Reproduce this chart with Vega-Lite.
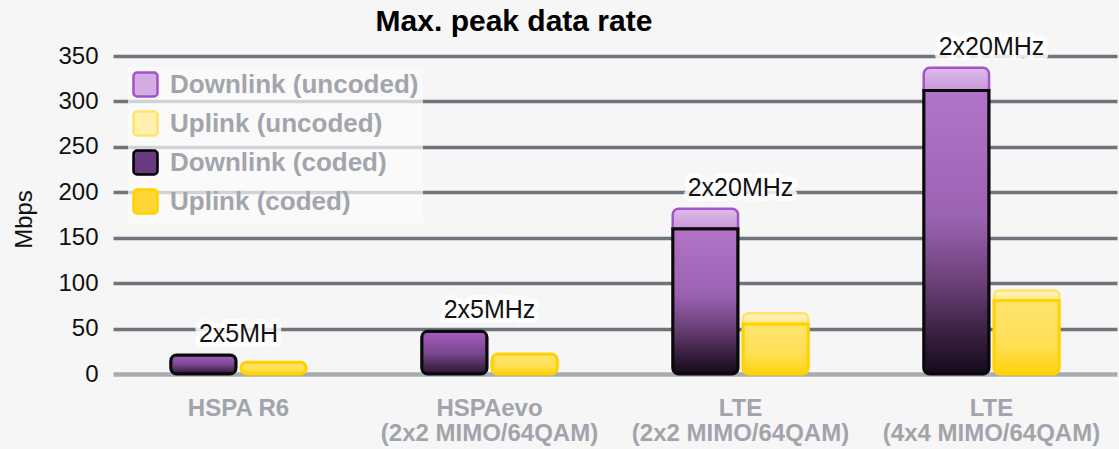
{
  "$schema": "https://vega.github.io/schema/vega-lite/v6.json",
  "width": 1004,
  "height": 318,
  "autosize": {"type": "none"},
  "padding": {"left": 113, "top": 56, "right": 2, "bottom": 75},
  "background": "#f6f6f6",
  "title": {
    "text": "Max. peak data rate",
    "font": "Liberation Sans",
    "fontSize": 30,
    "fontWeight": "bold",
    "color": "#000000",
    "anchor": "middle",
    "dx": -101,
    "baseline": "alphabetic",
    "offset": -26
  },
  "datasets": {
    "rates": [
      {"tech": "HSPA R6", "link": "Downlink", "coded": 21, "uncoded": 21, "band": "2x5MH"},
      {"tech": "HSPA R6", "link": "Uplink", "coded": 13, "uncoded": 13},
      {"tech": "HSPAevo (2x2 MIMO/64QAM)", "link": "Downlink", "coded": 47, "uncoded": 47, "band": "2x5MHz"},
      {"tech": "HSPAevo (2x2 MIMO/64QAM)", "link": "Uplink", "coded": 22, "uncoded": 22},
      {"tech": "LTE (2x2 MIMO/64QAM)", "link": "Downlink", "coded": 160, "uncoded": 182, "band": "2x20MHz"},
      {"tech": "LTE (2x2 MIMO/64QAM)", "link": "Uplink", "coded": 55, "uncoded": 67},
      {"tech": "LTE (4x4 MIMO/64QAM)", "link": "Downlink", "coded": 312, "uncoded": 337, "band": "2x20MHz"},
      {"tech": "LTE (4x4 MIMO/64QAM)", "link": "Uplink", "coded": 81, "uncoded": 92}
    ],
    "series": [
      {"series": "Downlink (uncoded)"},
      {"series": "Uplink (uncoded)"},
      {"series": "Downlink (coded)"},
      {"series": "Uplink (coded)"}
    ]
  },
  "layer": [
    {
      "data": {"name": "rates"},
      "transform": [{"filter": "datum.uncoded > datum.coded"}],
      "mark": {"type": "bar", "cornerRadiusTopLeft": 6, "cornerRadiusTopRight": 6, "strokeWidth": 2.5},
      "encoding": {
        "x": {"field": "tech", "type": "nominal",
          "sort": ["HSPA R6", "HSPAevo (2x2 MIMO/64QAM)", "LTE (2x2 MIMO/64QAM)", "LTE (4x4 MIMO/64QAM)"],
          "scale": {"domain": ["HSPA R6", "HSPAevo (2x2 MIMO/64QAM)", "LTE (2x2 MIMO/64QAM)", "LTE (4x4 MIMO/64QAM)"], "paddingInner": 0.46, "paddingOuter": 0.23},
          "axis": {
            "title": null, "domain": false, "ticks": false, "labelAngle": 0, "labelLimit": 0,
            "labelFont": "Liberation Sans", "labelFontSize": 24, "labelFontWeight": "bold", "labelColor": "#a2a4ac",
            "labelPadding": 22, "labelLineHeight": 25,
            "labelExpr": "indexof(datum.value, ' (') > 0 ? [substring(datum.value, 0, indexof(datum.value, ' (')), substring(datum.value, indexof(datum.value, ' (') + 1)] : datum.value"
          }},
        "xOffset": {"field": "link", "type": "nominal", "scale": {"domain": ["Downlink", "Uplink"], "paddingInner": 0.07, "paddingOuter": 0}},
        "y": {"field": "uncoded", "type": "quantitative", "scale": {"domain": [0, 350], "nice": false},
          "axis": {
            "values": [0, 50, 100, 150, 200, 250, 300, 350],
            "domain": false, "ticks": false, "grid": true,
            "gridColor": {"condition": {"test": "datum.value === 0", "value": "#a8abb0"}, "value": "#6d747c"},
            "gridWidth": {"condition": {"test": "datum.value === 0", "value": 4.5}, "value": 3.5},
            "labelFont": "Liberation Sans", "labelFontSize": 24, "labelColor": "#111111", "labelPadding": 15,
            "title": "Mbps", "titleFont": "Liberation Sans", "titleFontSize": 24, "titleFontWeight": "normal",
            "titleColor": "#111111", "titleAngle": -90, "titleX": -89, "titleY": 163,
            "titleAlign": "center", "titleBaseline": "middle"
          }},
        "y2": {"field": "coded"},
        "fill": {
          "condition": {"test": "datum.link === 'Downlink'", "value": {"gradient": "linear", "x1": 0, "y1": 0, "x2": 0, "y2": 1,
            "stops": [{"offset": 0, "color": "#ddbdea"}, {"offset": 1, "color": "#c796d8"}]}},
          "value": {"gradient": "linear", "x1": 0, "y1": 0, "x2": 0, "y2": 1,
            "stops": [{"offset": 0, "color": "#fff6cc"}, {"offset": 1, "color": "#ffe886"}]}
        },
        "stroke": {"condition": {"test": "datum.link === 'Downlink'", "value": "#a352c9"}, "value": "#ffe36a"}
      }
    },
    {
      "data": {"name": "rates"},
      "transform": [{"filter": "datum.uncoded > datum.coded"}],
      "mark": {"type": "bar", "cornerRadiusBottomLeft": 6, "cornerRadiusBottomRight": 6, "strokeWidth": 3},
      "encoding": {
        "x": {"field": "tech", "type": "nominal"},
        "xOffset": {"field": "link", "type": "nominal"},
        "y": {"field": "coded", "type": "quantitative"},
        "fill": {
          "condition": {"test": "datum.link === 'Downlink'", "value": {"gradient": "linear", "x1": 0, "y1": 0, "x2": 0, "y2": 1,
            "stops": [{"offset": 0, "color": "#b274c8"}, {"offset": 0.45, "color": "#9c62b2"}, {"offset": 0.68, "color": "#6a4078"}, {"offset": 0.86, "color": "#382040"}, {"offset": 1, "color": "#140a18"}]}},
          "value": {"gradient": "linear", "x1": 0, "y1": 0, "x2": 0, "y2": 1,
            "stops": [{"offset": 0, "color": "#ffe46e"}, {"offset": 0.6, "color": "#ffdf55"}, {"offset": 1, "color": "#ffd30c"}]}
        },
        "stroke": {"condition": {"test": "datum.link === 'Downlink'", "value": "#0a0a0a"}, "value": "#ffd200"}
      }
    },
    {
      "data": {"name": "rates"},
      "transform": [{"filter": "datum.uncoded <= datum.coded"}],
      "mark": {"type": "bar", "cornerRadius": 6, "strokeWidth": 3},
      "encoding": {
        "x": {"field": "tech", "type": "nominal"},
        "xOffset": {"field": "link", "type": "nominal"},
        "y": {"field": "coded", "type": "quantitative"},
        "fill": {
          "condition": {"test": "datum.link === 'Downlink'", "value": {"gradient": "linear", "x1": 0, "y1": 0, "x2": 0, "y2": 1,
            "stops": [{"offset": 0, "color": "#a85cc4"}, {"offset": 0.5, "color": "#7a4890"}, {"offset": 1, "color": "#2a1630"}]}},
          "value": {"gradient": "linear", "x1": 0, "y1": 0, "x2": 0, "y2": 1,
            "stops": [{"offset": 0, "color": "#ffe46e"}, {"offset": 0.6, "color": "#ffdf55"}, {"offset": 1, "color": "#ffd30c"}]}
        },
        "stroke": {"condition": {"test": "datum.link === 'Downlink'", "value": "#0a0a0a"}, "value": "#ffd200"}
      }
    },
    {
      "data": {"name": "rates"},
      "transform": [{"filter": "isValid(datum.band)"}],
      "mark": {"type": "text", "font": "Liberation Sans", "fontSize": 25, "baseline": "alphabetic", "dy": -13,
        "fill": "#ffffff", "stroke": "#ffffff", "strokeWidth": 10, "strokeOpacity": 0.85, "strokeJoin": "round"},
      "encoding": {
        "x": {"field": "tech", "type": "nominal"},
        "y": {"field": "uncoded", "type": "quantitative"},
        "text": {"field": "band"}
      }
    },
    {
      "data": {"name": "rates"},
      "transform": [{"filter": "isValid(datum.band)"}],
      "mark": {"type": "text", "font": "Liberation Sans", "fontSize": 25, "baseline": "alphabetic", "dy": -13, "fill": "#111111"},
      "encoding": {
        "x": {"field": "tech", "type": "nominal"},
        "y": {"field": "uncoded", "type": "quantitative"},
        "text": {"field": "band"}
      }
    },
    {
      "data": {"name": "series"},
      "mark": {"type": "point", "filled": true, "opacity": 0},
      "encoding": {
        "fill": {
          "field": "series", "type": "nominal",
          "scale": {
            "domain": ["Downlink (uncoded)", "Uplink (uncoded)", "Downlink (coded)", "Uplink (coded)"],
            "range": ["#d3ace2", "#fff0b0", "#6a3a80", "#ffd633"]
          },
          "legend": {
            "title": null, "orient": "none", "legendX": 15, "legendY": 11, "padding": 4,
            "fillColor": "rgba(252,252,252,0.7)",
            "labelFont": "Liberation Sans", "labelFontSize": 26, "labelFontWeight": "bold", "labelColor": "#a3a5ad",
            "labelOffset": 11, "rowPadding": 4, "labelLimit": 0,
            "symbolType": "M-0.7,-1H0.7A0.3,0.3 0 0 1 1,-0.7V0.7A0.3,0.3 0 0 1 0.7,1H-0.7A0.3,0.3 0 0 1 -1,0.7V-0.7A0.3,0.3 0 0 1 -0.7,-1Z",
            "symbolSize": 576, "symbolStrokeWidth": 2.5, "symbolOpacity": 1,
            "encode": {
              "symbols": {
                "update": {
                  "opacity": {"value": 1},
                  "fill": {"signal": "datum.value === 'Downlink (uncoded)' ? {gradient: 'linear', x1: 0, y1: 0, x2: 0, y2: 1, stops: [{offset: 0, color: '#e4c8f0'}, {offset: 1, color: '#c08ad4'}]} : datum.value === 'Uplink (uncoded)' ? {gradient: 'linear', x1: 0, y1: 0, x2: 0, y2: 1, stops: [{offset: 0, color: '#fff9dc'}, {offset: 1, color: '#ffe98c'}]} : datum.value === 'Downlink (coded)' ? {gradient: 'linear', x1: 0, y1: 0, x2: 0, y2: 1, stops: [{offset: 0, color: '#a85cc4'}, {offset: 1, color: '#1a0e1e'}]} : {gradient: 'linear', x1: 0, y1: 0, x2: 0, y2: 1, stops: [{offset: 0, color: '#ffe680'}, {offset: 1, color: '#ffd000'}]}"},
                  "stroke": {"signal": "datum.value === 'Downlink (uncoded)' ? '#a352c9' : datum.value === 'Uplink (uncoded)' ? '#ffe36a' : datum.value === 'Downlink (coded)' ? '#000000' : '#ffd200'"}
                }
              }
            }
          }
        }
      }
    }
  ],
  "config": {"view": {"stroke": null}}
}
